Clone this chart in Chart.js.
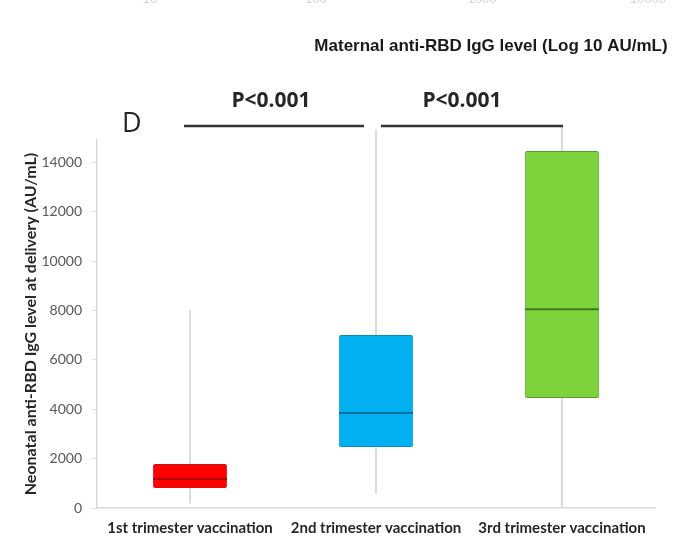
<!DOCTYPE html>
<html>
<head>
<meta charset="utf-8">
<style>
  html, body { margin: 0; padding: 0; background: #fff; }
  #wrap { width: 674px; height: 544px; }
</style>
<script src="https://cdn.jsdelivr.net/npm/chart.js"></script>
</head>
<body>
<div id="wrap"><canvas id="boxChart" width="674" height="544"></canvas></div>
<script>
// categories and box values (AU/mL)
const categories = ['1st trimester vaccination', '2nd trimester vaccination', '3rd trimester vaccination'];
const whiskerMin = [200, 600, 50];
const q1 = [810, 2470, 4450];
const medians = [1170, 3850, 8050];
const q3 = [1780, 7000, 14450];
const whiskerMax = [8000, 15300, 15450];
const yTicks = [0, 2000, 4000, 6000, 8000, 10000, 12000, 14000];
const sigLabels = ['P<0.001', 'P<0.001'];
const sigPairs = [[0, 1], [1, 2]];
const panelLetter = 'D';
const topTitle = 'Maternal anti-RBD IgG level (Log 10 AU/mL)';
const topRemnants = ['10', '100', '1000', '10000'];

const fillColors = ['#ff0000', '#00b0f0', '#7ed23c'];
const edgeColors = ['#c81010', '#0a8cc0', '#5a9e2a'];
const medianColors = ['#b00000', '#006f9a', '#3f7a1c'];

// significance bars, panel letter, top caption
const annotations = {
  id: 'annotations',
  afterDraw(chart) {
    const ctx = chart.ctx;
    const x = chart.scales.x;
    const startShift = [-6, 5], endShift = [-12, 1], textShift = [-3, -10];
    ctx.save();
    // cut-off tick labels of the panel above
    ctx.fillStyle = '#d4d4d4';
    ctx.font = '13px "Liberation Sans"';
    ctx.textAlign = 'center';
    ctx.textBaseline = 'alphabetic';
    topRemnants.forEach((t, i) => ctx.fillText(t, 150 + i * 166, 3));

    ctx.fillStyle = '#1a1a1a';
    ctx.font = 'bold 17px "Liberation Sans"';
    ctx.fillText(topTitle, 491, 51);

    ctx.font = '27px "Open Sans"';
    ctx.textAlign = 'left';
    ctx.textBaseline = 'middle';
    ctx.fillStyle = '#262626';
    ctx.fillText(panelLetter, 122, 124);

    ctx.font = 'bold 21px "Open Sans"';
    ctx.textAlign = 'center';
    ctx.strokeStyle = '#333';
    ctx.lineWidth = 2.5;
    sigPairs.forEach((p, i) => {
      const x0 = x.getPixelForValue(p[0]) + startShift[i];
      const x1 = x.getPixelForValue(p[1]) + endShift[i];
      ctx.beginPath();
      ctx.moveTo(x0, 126);
      ctx.lineTo(x1, 126);
      ctx.stroke();
      ctx.fillText(sigLabels[i], (x0 + x1) / 2 + textShift[i], 101);
    });
    ctx.restore();
  }
};

new Chart(document.getElementById('boxChart').getContext('2d'), {
  type: 'bar',
  data: {
    labels: categories,
    datasets: [
      {
        label: 'whiskers',
        data: categories.map((c, i) => [whiskerMin[i], whiskerMax[i]]),
        backgroundColor: '#dcdcdc',
        barThickness: 1.5,
        grouped: false,
        clip: false,
        order: 3
      },
      {
        label: 'box',
        data: categories.map((c, i) => [q1[i], q3[i]]),
        backgroundColor: fillColors,
        borderColor: edgeColors,
        borderWidth: 1,
        borderRadius: 2,
        borderSkipped: false,
        barPercentage: 0.4,
        categoryPercentage: 1,
        grouped: false,
        order: 2
      },
      {
        type: 'line',
        label: 'median',
        data: medians,
        showLine: false,
        pointStyle: 'line',
        pointRadius: 37,
        pointBorderWidth: 2,
        pointBorderColor: medianColors,
        order: 1
      }
    ]
  },
  options: {
    responsive: false,
    animation: false,
    layout: { autoPadding: false, padding: { left: 0, right: 19, top: 140, bottom: 0 } },
    plugins: { legend: { display: false }, tooltip: { enabled: false } },
    scales: {
      x: {
        grid: { display: false, drawTicks: false },
        border: { display: true, color: '#d9d9d9', width: 1.5 },
        ticks: {
          padding: 11,
          color: '#262626',
          font: { family: 'Lato', size: 15, weight: 'bold' },
          maxRotation: 0
        },
        afterFit(scale) {
          scale.height = 36;
          scale.paddingLeft = 0;
          scale.paddingRight = 0;
        }
      },
      y: {
        min: 0,
        max: 14900,
        afterBuildTicks(scale) { scale.ticks = yTicks.map(v => ({ value: v })); },
        grid: { drawOnChartArea: false, tickLength: 5, color: '#e0e0e0' },
        border: { display: true, color: '#d9d9d9', width: 1.5 },
        ticks: {
          padding: 10,
          color: '#595959',
          font: { family: 'Lato', size: 14 },
          callback: v => String(v)
        },
        title: {
          display: true,
          text: 'Neonatal anti-RBD IgG level at delivery (AU/mL)',
          color: '#262626',
          font: { family: 'Lato', size: 16, weight: 'bold' },
          padding: { top: 21, bottom: 0 }
        },
        afterFit(scale) { scale.width = 97; }
      }
    }
  },
  plugins: [annotations]
});
</script>
</body>
</html>
